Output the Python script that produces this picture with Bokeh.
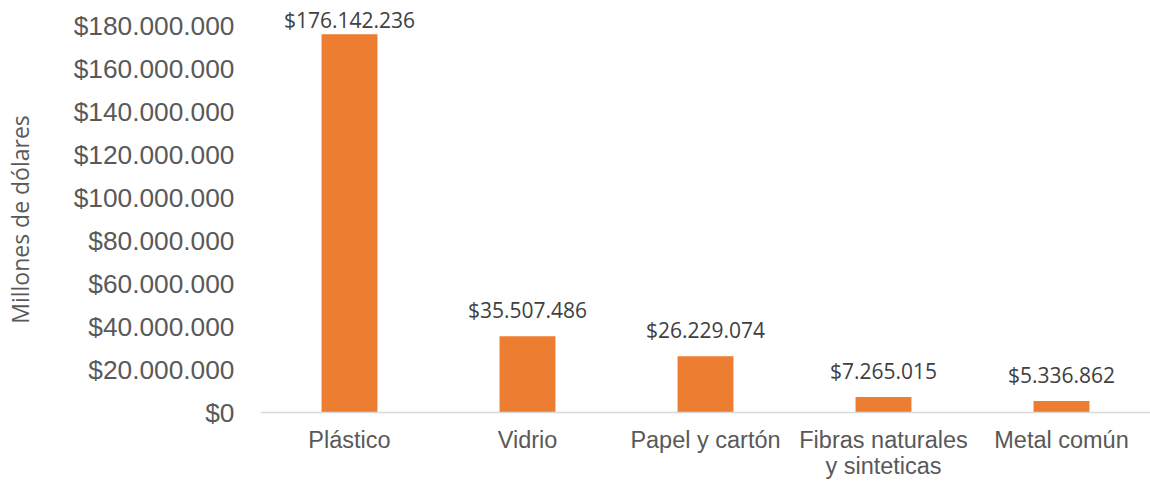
import numpy as np
from bokeh.plotting import figure
from bokeh.models import ColumnDataSource, FactorRange, Range1d, FixedTicker, Span
from bokeh.core.properties import value
from bokeh.embed import file_html
from bokeh.resources import INLINE

# ---- data ----
categories = ["Plástico", "Vidrio", "Papel y cartón", "Fibras naturales\ny sinteticas", "Metal común"]
values = [176142236, 35507486, 26229074, 7265015, 5336862]
y_ticks = [0, 20000000, 40000000, 60000000, 80000000, 100000000, 120000000, 140000000, 160000000, 180000000]
y_title = "Millones de dólares"

def money(v):
    return "$" + f"{int(v):,}".replace(",", ".")

tick_labels = {t: money(t) for t in y_ticks}
label_texts = [money(v) for v in values]

# ---- layout (pixels) ----
W, H = 1150, 482
LEFT, BOTTOM = 258, 44
zero_px = 412          # canvas y of the value 0
top_tick_px = 25.5     # canvas y of the top tick
u = y_ticks[-1] / (zero_px - top_tick_px)   # data units per pixel
y_start = -(H - BOTTOM - zero_px) * u
y_end = y_ticks[-1] + top_tick_px * u

label_gap_px = 26
label_y = np.minimum(np.array(values, dtype=float) + label_gap_px * u, y_end - 19 * u)

src = ColumnDataSource(dict(cat=categories, val=values, ly=label_y, txt=label_texts))

p = figure(width=W, height=H, x_range=FactorRange(factors=categories, range_padding=0),
           y_range=Range1d(y_start, y_end), output_backend="svg", toolbar_location=None,
           min_border_left=LEFT, min_border_right=0, min_border_top=0, min_border_bottom=BOTTOM)
p.outline_line_color = None
p.background_fill_color = "white"
p.border_fill_color = "white"
p.xgrid.visible = False
p.ygrid.visible = False

p.vbar(x="cat", top="val", bottom=0, width=0.314, source=src, fill_color="#ED7D31", line_color=None)

p.add_layout(Span(location=0, dimension="width", line_color="#D9D9D9", line_width=1.5))

p.text(x="cat", y="ly", text="txt", source=src, text_align="center", text_baseline="alphabetic",
       text_font=value("Open Sans"), text_font_size="21px", text_color="#404040")

# y axis
ya = p.yaxis[0]
ya.ticker = FixedTicker(ticks=y_ticks)
ya.major_label_overrides = tick_labels
ya.axis_line_color = None
ya.major_tick_line_color = None
ya.minor_tick_line_color = None
ya.major_label_standoff = 20
ya.major_label_text_font = "Liberation Sans"
ya.major_label_text_font_size = "26.3px"
ya.major_label_text_color = "#595959"
ya.axis_label = y_title
ya.axis_label_text_font = "Open Sans"
ya.axis_label_text_font_size = "23px"
ya.axis_label_text_font_style = "normal"
ya.axis_label_text_color = "#595959"
ya.axis_label_standoff = 35

# x axis (line drawn by the Span at zero)
xa = p.xaxis[0]
xa.axis_line_color = None
xa.major_tick_line_color = None
xa.minor_tick_line_color = None
xa.major_tick_out = 0
xa.major_tick_in = 0
xa.major_label_standoff = -12
xa.major_label_text_font = "Liberation Sans"
xa.major_label_text_font_size = "23.5px"
xa.major_label_text_color = "#595959"
xa.major_label_text_line_height = 1.0

open("out.html", "w").write(file_html(p, INLINE))
